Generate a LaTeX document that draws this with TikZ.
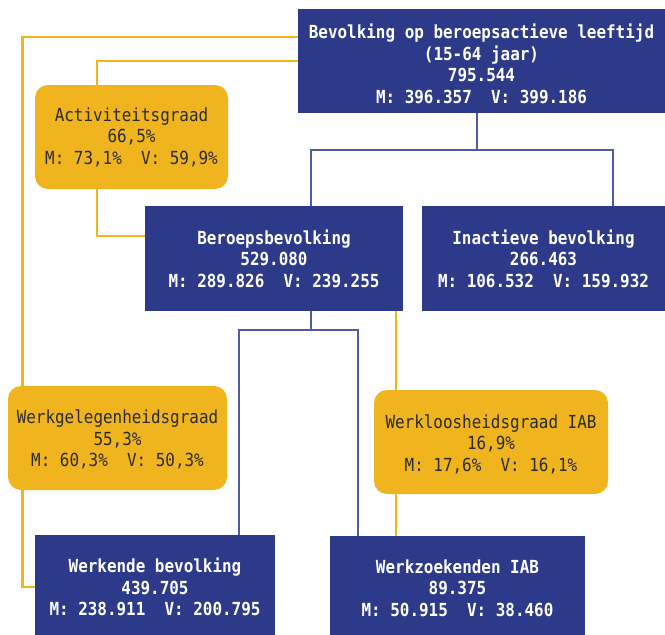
\documentclass[tikz,border=0pt]{standalone}
\usepackage{fontspec}
\setmonofont{DejaVu Sans Mono}[FakeStretch=0.885]
\usetikzlibrary{backgrounds}
\definecolor{popnavy}{HTML}{2D3A8A}
\definecolor{linknavy}{HTML}{4F5AA3}
\definecolor{rategold}{HTML}{F0B41E}
\definecolor{ratetext}{HTML}{2B2B2B}

\begin{document}
\begin{tikzpicture} [x = 1pt, y = -1pt,
  popbox/.style = {fill = popnavy, text = white, font = \ttfamily\bfseries\fontsize{18}{21.5}\selectfont, align = center, inner sep = 0pt},
  ratebox/.style = {fill = rategold, text = ratetext, rounded corners = 13pt, font = \ttfamily\fontsize{18}{21.5}\selectfont, align = center, inner sep = 0pt},
  navyline/.style = {draw = linknavy, line width = 1.5pt},
  goldline/.style = {draw = rategold, line width = 2.7pt}]
\useasboundingbox (0, 0) rectangle (665, 635);
% boxes
\node[popbox, minimum width = 367pt, minimum height = 104pt] (top) at (481.5, 61) {\rule{0pt}{20pt}Bevolking op beroepsactieve leeftijd\\(15-64 jaar)\\795.544\\M: 396.357\ \ V: 399.186};
\node[ratebox, minimum width = 193pt, minimum height = 104pt] (act) at (131.5, 137) {Activiteitsgraad\\66,5\%\\M: 73,1\%\ \ V: 59,9\%};
\node[popbox, minimum width = 258pt, minimum height = 105pt] (beroeps) at (274, 258.5) {Beroepsbevolking\\529.080\\M: 289.826\ \ V: 239.255};
\node[popbox, minimum width = 243pt, minimum height = 105pt] (inact) at (543.5, 258.5) {Inactieve bevolking\\266.463\\M: 106.532\ \ V: 159.932};
\node[ratebox, minimum width = 219pt, minimum height = 104pt] (werkgel) at (117.5, 438) {\rule{0pt}{17pt}Werkgelegenheidsgraad\\55,3\%\\M: 60,3\%\ \ V: 50,3\%};
\node[ratebox, minimum width = 234pt, minimum height = 104pt] (werkloos) at (491, 442) {\rule{0pt}{18pt}Werkloosheidsgraad IAB\\16,9\%\\M: 17,6\%\ \ V: 16,1\%};
\node[popbox, minimum width = 240pt, minimum height = 104pt] (werkende) at (155, 587) {Werkende bevolking\\439.705\\M: 238.911\ \ V: 200.795};
\node[popbox, minimum width = 255pt, minimum height = 104pt] (werkzoek) at (457.5, 588) {Werkzoekenden IAB\\89.375\\M: 50.915\ \ V: 38.460};
% splits
\coordinate (fork1) at (477, 150);
\coordinate (fork2) at (311, 330);
\coordinate (outer) at (22.5, 37);
\begin{scope}[on background layer]
\draw[navyline] ([xshift = -4.5pt]top.south) -- (fork1);
\draw[navyline] ([xshift = 37pt]beroeps.north) |- (fork1) -| ([xshift = 69.5pt]inact.north);
\draw[navyline] ([xshift = 37pt]beroeps.south) -- (fork2);
\draw[navyline] ([xshift = 84pt]werkende.north) |- (fork2) -| ([xshift = -99.5pt]werkzoek.north);
% rates
\draw[goldline] ([yshift = 24pt]top.west) -- (outer) |- (werkende.west);
\draw[goldline] (top.west) -| ([xshift = -34.5pt]act.north);
\draw[goldline] ([xshift = -34.5pt]act.south) |- ([yshift = 22.5pt]beroeps.west);
\draw[goldline] ([xshift = 122pt]beroeps.south) -- ([xshift = -95pt]werkloos.north);
\draw[goldline] ([xshift = -95pt]werkloos.south) -- ([xshift = -61.5pt]werkzoek.north);
\end{scope}
\end{tikzpicture}
\end{document}
